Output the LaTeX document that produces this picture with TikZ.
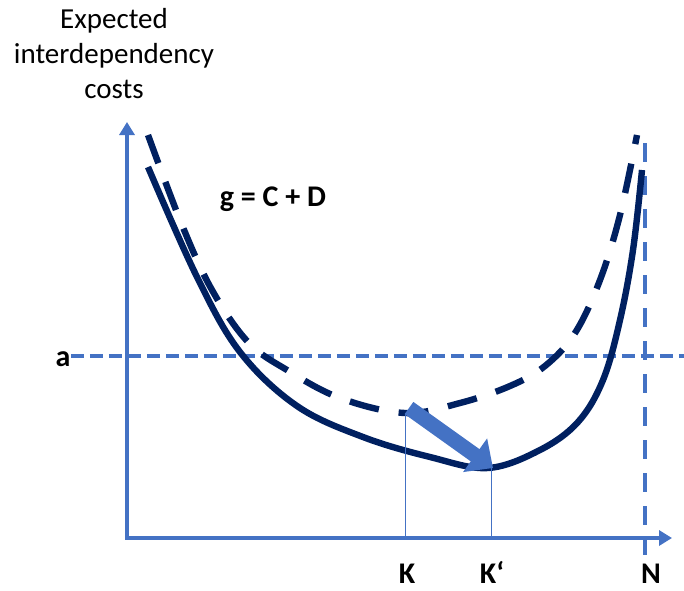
\documentclass[tikz,border=0pt]{standalone}
\usepackage{fontspec}
\setmainfont{Carlito}
\usetikzlibrary{arrows.meta, positioning, calc}
\definecolor{axisblue}{HTML}{4472C4}
\definecolor{curvenavy}{HTML}{002060}

\begin{document}
\begin{tikzpicture}[
    x=0.5pt, y=-0.5pt,
    every node/.style={font=\fontsize{14.5pt}{17.5pt}\selectfont, text=black, inner sep=0pt},
    lbl/.style={font=\bfseries\fontsize{15pt}{18pt}\selectfont},
    axis/.style={axisblue, line width=2.3pt, -{Triangle[length=6.5pt, width=7.5pt]}},
    level/.style={axisblue, line width=2pt, dash pattern=on 6.5pt off 3pt},
    bound/.style={axisblue, line width=2pt, dash pattern=on 9.5pt off 7pt},
    cost/.style={curvenavy, line width=3.2pt},
    oldcost/.style={cost, dash pattern=on 15pt off 10pt},
    drop/.style={axisblue, line width=0.5pt},
    movearr/.style={axisblue, line width=7.5pt, -{Triangle[length=11pt, width=20pt]}},
]
\useasboundingbox (0,0) rectangle (684,590);

% ============================================================ axes
\coordinate (origin) at (127,538);
\coordinate (ytop) at (127,122);
\coordinate (xend) at (672,538);
\draw[axis] (origin) -- (ytop);
\draw[axis] ($(origin)+(-2,0)$) -- (xend);

\node[align=center, anchor=north] (title) at (114,8)
    {Expected\\ interdependency\\ costs};

% threshold a and the bound N
\node[lbl, anchor=base] (alab) at (63,366) {a};
\coordinate (aend) at (684,356);
\draw[level] (alab.east |- aend) -- (aend);

\node[lbl, anchor=base] (nlab) at (651,583) {N};
\coordinate (ntop) at (645,143);
\draw[bound] (ntop) -- (ntop |- 0,555);

% ============================================================ the two cost curves
\draw[oldcost] plot[smooth, tension=0.6] coordinates {
    (148,135) (182,225) (212,290) (248,342) (287,370) (340,398) (405,413)
    (460,403) (510,386) (545,366) (575,333) (600,280) (620,215) (637,135)};
\draw[cost] plot[smooth, tension=0.6] coordinates {
    (148,167) (197,277) (240,352) (297,406) (363,437) (430,457) (488,468)
    (540,450) (578,422) (603,380) (620,320) (633,250) (642,170)};

\node[lbl, anchor=base] (geq) at (273,206) {g = C + D};

% ============================================================ the move from K to K'
\coordinate (kd) at (405,413);
\coordinate (ks) at (491,467);
\node[lbl, anchor=base] (klab) at (407,583) {K};
\node[lbl, anchor=base] (kplab) at (492,583) {K‘};
\draw[drop] (kd) -- (kd |- origin);
\draw[drop] (ks) -- (ks |- origin);

\draw[movearr] (409,408) -- (493,468);

\end{tikzpicture}
\end{document}
